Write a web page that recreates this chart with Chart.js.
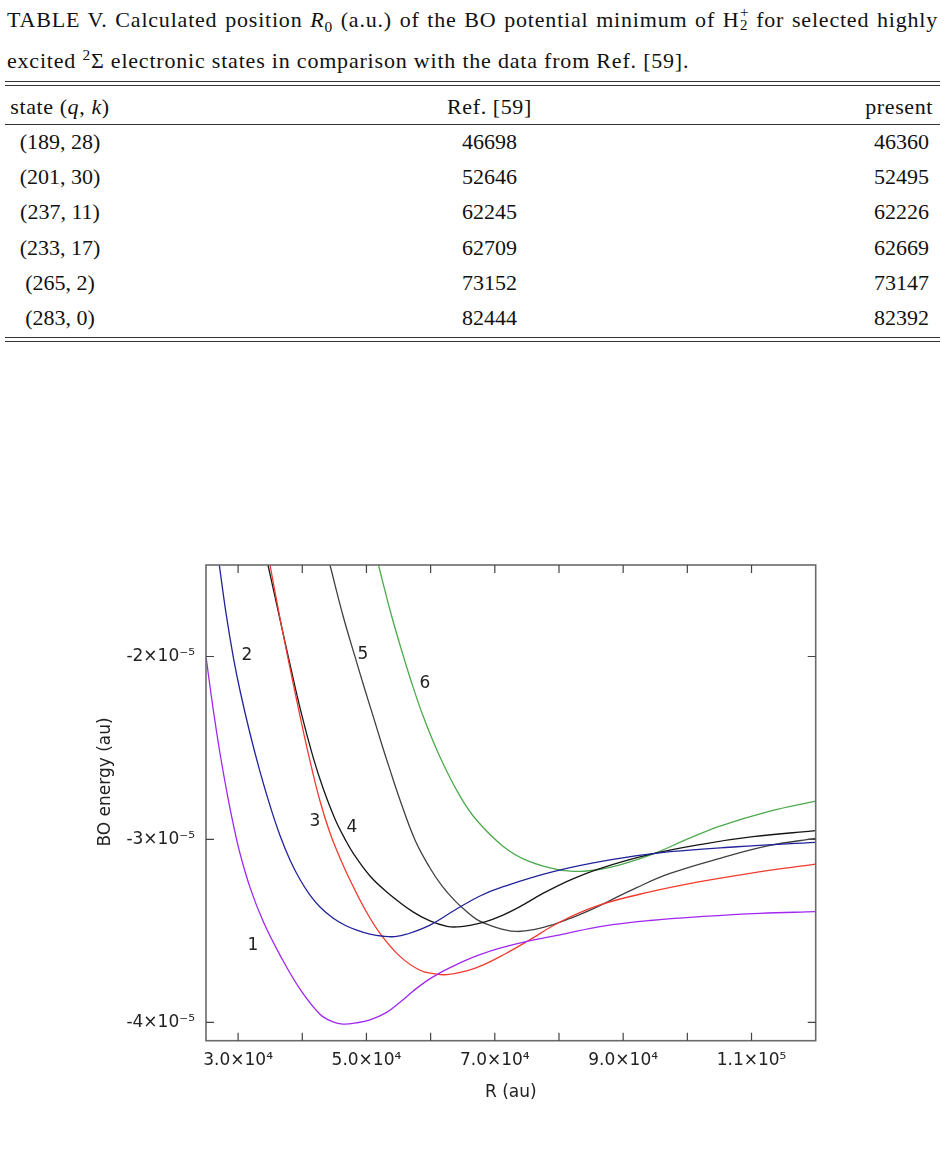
<!DOCTYPE html>
<html>
<head>
<meta charset="utf-8">
<script src="https://cdn.jsdelivr.net/npm/chart.js@4.4.1/dist/chart.umd.min.js"></script>
<style>
html,body{margin:0;padding:0;background:#fff;}
body{width:945px;height:1153px;position:relative;overflow:hidden;font-family:'Liberation Serif','Times New Roman',serif;color:#111;}
sup,sub{line-height:0;}
.cap{position:absolute;left:7px;font-size:22px;line-height:24px;height:24px;letter-spacing:0.8px;}
#cap1{width:931px;text-align:justify;text-align-last:justify;}
#cap2{white-space:nowrap;}
.rule{position:absolute;left:5px;width:935px;height:1.4px;background:#333;}
.cell{position:absolute;font-size:22px;line-height:24px;height:24px;white-space:nowrap;}
.hdr{letter-spacing:0.6px;}
.c1{left:0;width:120px;text-align:center;}
.c2{left:389.5px;width:200px;text-align:center;}
.c3{left:640px;text-align:right;}
.stk{display:inline-block;position:relative;width:9px;height:10px;}
.stk span{position:absolute;left:0.5px;font-size:15px;line-height:15px;}
.stk .sp{top:-12px;}
.stk .sb{top:1px;}
#chartWrap{position:absolute;left:0;top:500px;width:945px;height:653px;}
</style>
</head>
<body>
<div class="cap" id="cap1" style="top:8px;">TABLE V. Calculated position <i>R</i><sub style="font-size:0.7em;">0</sub> (a.u.) of the BO potential minimum of H<span class="stk"><span class="sp">+</span><span class="sb">2</span></span> for selected highly</div>
<div class="cap" id="cap2" style="top:49px;">excited <sup style="font-size:0.7em;">2</sup>Σ electronic states in comparison with the data from Ref. [59].</div>
<div class="rule" style="top:80.5px;"></div>
<div class="rule" style="top:84.5px;"></div>
<div class="rule" style="top:123.5px;"></div>
<div class="rule" style="top:336.5px;"></div>
<div class="rule" style="top:340.8px;"></div>
<div id="table"></div>
<div id="chartWrap"><canvas id="c"></canvas></div>
<script>
// ---------- table data ----------
const tableHeader = ['state (<i>q</i>, <i>k</i>)', 'Ref. [59]', 'present'];
const tableStates = ['(189, 28)', '(201, 30)', '(237, 11)', '(233, 17)', '(265, 2)', '(283, 0)'];
const tableRef = ['46698', '52646', '62245', '62709', '73152', '82444'];
const tablePresent = ['46360', '52495', '62226', '62669', '73147', '82392'];

// ---------- chart data ----------
const xTickValues = [30000, 40000, 50000, 60000, 70000, 80000, 90000, 100000, 110000];
const xTickLabels = ['3.0×10⁴', '', '5.0×10⁴', '', '7.0×10⁴', '', '9.0×10⁴', '', '1.1×10⁵'];
const yTickValues = [-4e-5, -3e-5, -2e-5];
const yTickLabels = ['-4×10⁻⁵', '-3×10⁻⁵', '-2×10⁻⁵'];
const xTitle = 'R (au)';
const yTitle = 'BO energy (au)';

const R1 = [25000,26091,27181,28428,29363,30298,31856,33881,36530,39646,42762,44788,46346,48372,50553,53155,55227,57300,59388,61460,63532,65620,67692,70808,75015,80157,86857,94180,102438,111319,120000];
const E1 = [-2.001e-5,-2.281e-5,-2.529e-5,-2.774e-5,-2.935e-5,-3.076e-5,-3.262e-5,-3.446e-5,-3.632e-5,-3.818e-5,-3.955e-5,-3.997e-5,-4.009e-5,-4.003e-5,-3.986e-5,-3.945e-5,-3.890e-5,-3.828e-5,-3.773e-5,-3.729e-5,-3.692e-5,-3.658e-5,-3.629e-5,-3.594e-5,-3.557e-5,-3.521e-5,-3.474e-5,-3.443e-5,-3.421e-5,-3.404e-5,-3.395e-5];

const R2 = [27072,28116,29254,30298,31856,33414,34972,36530,38088,39646,41204,42762,44834,46658,48480,50553,52625,54448,56271,59901,63532,67692,71323,79114,87947,97296,107688,120000];
const E2 = [-1.500e-5,-1.763e-5,-2.003e-5,-2.186e-5,-2.421e-5,-2.629e-5,-2.815e-5,-2.978e-5,-3.112e-5,-3.219e-5,-3.304e-5,-3.369e-5,-3.431e-5,-3.469e-5,-3.496e-5,-3.518e-5,-3.529e-5,-3.531e-5,-3.518e-5,-3.468e-5,-3.391e-5,-3.309e-5,-3.258e-5,-3.176e-5,-3.112e-5,-3.067e-5,-3.040e-5,-3.016e-5];

const R3 = [34972,36530,38088,39646,41204,42762,44320,45879,47437,49774,52111,55227,58343,60680,62550,65620,68206,71587,75015,80157,86389,94180,101970,109761,120000];
const E3 = [-1.500e-5,-1.790e-5,-2.063e-5,-2.325e-5,-2.571e-5,-2.790e-5,-2.965e-5,-3.101e-5,-3.222e-5,-3.382e-5,-3.513e-5,-3.639e-5,-3.715e-5,-3.735e-5,-3.739e-5,-3.719e-5,-3.686e-5,-3.626e-5,-3.558e-5,-3.451e-5,-3.358e-5,-3.287e-5,-3.231e-5,-3.185e-5,-3.135e-5];

const R4 = [34660,36374,37932,39802,41672,43230,45099,46658,47904,50553,53202,57253,59901,62550,64264,66134,68471,70808,73924,77508,81714,86389,94180,102438,110228,120000];
const E4 = [-1.500e-5,-1.773e-5,-2.019e-5,-2.303e-5,-2.549e-5,-2.719e-5,-2.888e-5,-2.998e-5,-3.074e-5,-3.200e-5,-3.288e-5,-3.396e-5,-3.445e-5,-3.475e-5,-3.478e-5,-3.470e-5,-3.451e-5,-3.421e-5,-3.367e-5,-3.295e-5,-3.222e-5,-3.159e-5,-3.082e-5,-3.025e-5,-2.985e-5,-2.952e-5];

const R5 = [44320,46393,48216,49774,51067,52423,53669,55227,57564,59901,61771,63796,65511,67225,69250,70808,73410,76262,79114,81714,84318,87947,92107,97296,105086,112877,120000];
const E5 = [-1.500e-5,-1.783e-5,-2.001e-5,-2.183e-5,-2.329e-5,-2.484e-5,-2.620e-5,-2.784e-5,-3.003e-5,-3.156e-5,-3.254e-5,-3.336e-5,-3.391e-5,-3.438e-5,-3.470e-5,-3.487e-5,-3.503e-5,-3.492e-5,-3.465e-5,-3.432e-5,-3.395e-5,-3.334e-5,-3.263e-5,-3.186e-5,-3.103e-5,-3.033e-5,-2.994e-5];

const R6 = [51877,53669,55227,56785,58857,61459,64576,67178,71323,74969,79643,83273,86389,89505,94694,99898,105086,112877,120000];
const E6 = [-1.500e-5,-1.746e-5,-1.937e-5,-2.115e-5,-2.328e-5,-2.549e-5,-2.763e-5,-2.895e-5,-3.038e-5,-3.114e-5,-3.163e-5,-3.174e-5,-3.163e-5,-3.139e-5,-3.079e-5,-3.000e-5,-2.927e-5,-2.845e-5,-2.790e-5];

const curveLabels = ['1', '2', '3', '4', '5', '6'];
const labelR = [32323, 31388, 41983, 47748, 49462, 59122];
const labelE = [-3.582e-5, -1.997e-5, -2.905e-5, -2.937e-5, -1.992e-5, -2.150e-5];
const curveColors = ['#a128f0', '#22229c', '#f23b2e', '#151515', '#404040', '#4caa4c'];

// ---------- build table ----------
(function buildTable(){
  const t = document.getElementById('table');
  function row(cells, center, c3right, cls){
    const top = center - 12;
    t.insertAdjacentHTML('beforeend',
      '<div class="cell c1 '+cls+'" style="top:'+top+'px">'+cells[0]+'</div>'+
      '<div class="cell c2 '+cls+'" style="top:'+top+'px">'+cells[1]+'</div>'+
      '<div class="cell c3 '+cls+'" style="top:'+top+'px;width:'+(c3right-640)+'px">'+cells[2]+'</div>');
  }
  row(tableHeader, 106.7, 933, 'hdr');
  for (let i = 0; i < tableStates.length; i++) {
    row([tableStates[i], tableRef[i], tablePresent[i]], 141.7 + 35.3 * i, 929, '');
  }
})();

// ---------- chart ----------
Chart.defaults.font.family = "'DejaVu Sans', sans-serif";
const series = [[R1,E1],[R2,E2],[R3,E3],[R4,E4],[R5,E5],[R6,E6]];
const datasets = series.map((s, i) => ({
  label: curveLabels[i],
  data: s[0].map((r, j) => ({x: r, y: s[1][j]})),
  borderColor: curveColors[i],
  borderWidth: 1.3,
  pointRadius: 0,
  fill: false,
  tension: 0.4
}));

const decorPlugin = {
  id: 'decor',
  afterDatasetsDraw(chart) {
    const {ctx, chartArea: a, scales: {x, y}} = chart;
    ctx.save();
    ctx.fillStyle = '#222';
    ctx.font = "17px 'DejaVu Sans'";
    ctx.textAlign = 'center';
    ctx.textBaseline = 'middle';
    curveLabels.forEach((t, i) => ctx.fillText(t, x.getPixelForValue(labelR[i]), y.getPixelForValue(labelE[i])));
    ctx.strokeStyle = '#6a6a6a';
    ctx.lineWidth = 1.6;
    ctx.strokeRect(a.left, a.top, a.right - a.left, a.bottom - a.top);
    ctx.strokeStyle = '#444';
    ctx.lineWidth = 1.2;
    ctx.beginPath();
    x.ticks.forEach(t => {
      const px = x.getPixelForValue(t.value);
      ctx.moveTo(px, a.bottom); ctx.lineTo(px, a.bottom - 8);
      ctx.moveTo(px, a.top); ctx.lineTo(px, a.top + 8);
    });
    y.ticks.forEach(t => {
      const py = y.getPixelForValue(t.value);
      ctx.moveTo(a.left, py); ctx.lineTo(a.left + 8, py);
      ctx.moveTo(a.right, py); ctx.lineTo(a.right - 8, py);
    });
    ctx.stroke();
    ctx.translate(a.left - 100, a.top + 217);
    ctx.rotate(-Math.PI / 2);
    ctx.fillText(yTitle, 0, 0);
    ctx.restore();
  }
};

new Chart(document.getElementById('c'), {
  type: 'line',
  data: {datasets},
  plugins: [decorPlugin],
  options: {
    responsive: true,
    maintainAspectRatio: false,
    animation: false,
    layout: {padding: {left: 0, top: 65, right: 129.3, bottom: 32.3}},
    plugins: {legend: {display: false}, tooltip: {enabled: false}},
    scales: {
      x: {
        type: 'linear', min: 25000, max: 120000,
        afterBuildTicks: s => { s.ticks = xTickValues.map(v => ({value: v})); },
        afterFit: s => { s.height = 80; },
        grid: {display: false, drawTicks: false, tickLength: 0},
        border: {display: false},
        ticks: {
          autoSkip: false, maxRotation: 0, padding: 10, color: '#222',
          font: {size: 17},
          callback: (v) => { const k = xTickValues.indexOf(v); return k >= 0 ? xTickLabels[k] : ''; }
        },
        title: {display: true, text: xTitle, color: '#222', font: {size: 17}, padding: {top: 0, bottom: 17.5}}
      },
      y: {
        type: 'linear', min: -4.1e-5, max: -1.5e-5,
        afterBuildTicks: s => { s.ticks = yTickValues.map(v => ({value: v})); },
        afterFit: s => { s.width = 206; },
        grid: {display: false, drawTicks: false, tickLength: 0},
        border: {display: false},
        ticks: {
          autoSkip: false, padding: 11, color: '#222',
          font: {size: 17},
          callback: (v) => { const k = yTickValues.indexOf(v); return k >= 0 ? yTickLabels[k] : ''; }
        },
        title: {display: false}
      }
    }
  }
});
</script>
</body>
</html>
